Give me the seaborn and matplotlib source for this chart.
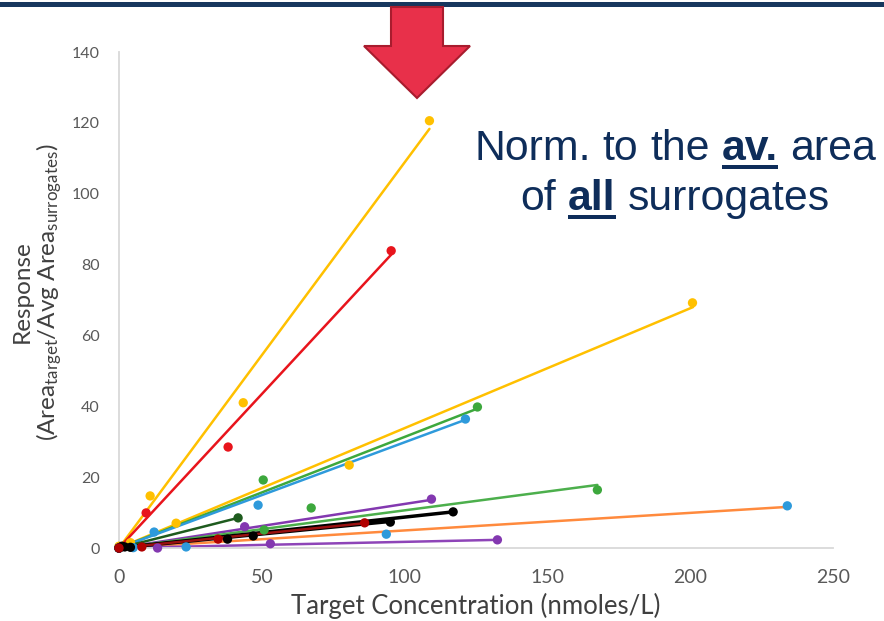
import pandas as pd
import seaborn as sns
import matplotlib.pyplot as plt
from matplotlib.patches import Polygon, Rectangle

# Points (x = nmoles/L, y = response)
SERIES = ["yellow_a", "red", "yellow_b", "green_a", "blue_a", "purple_a",
          "green_b", "black_a", "dkgreen", "blue_b", "purple_b", "black_b", "darkred"]

yellow_a_x = [0, 10.9, 43.5, 108.7]
yellow_a_y = [0.5, 14.7, 41.0, 120.6]
red_x = [0, 9.5, 38.2, 95.3]
red_y = [0, 9.9, 28.5, 83.9]
yellow_b_x = [0, 4, 20, 80.6, 200.8]
yellow_b_y = [0, 1.5, 7.0, 23.4, 69.2]
green_a_x = [0, 50.5, 125.5]
green_a_y = [0, 19.2, 39.8]
blue_a_x = [0, 12.3, 48.7, 121.3]
blue_a_y = [0, 4.5, 12.1, 36.4]
purple_a_x = [0, 44, 109.4]
purple_a_y = [0, 6.0, 13.8]
green_b_x = [0, 50.8, 67.3, 167.5]
green_b_y = [0, 5.1, 11.3, 16.4]
black_a_x = [0, 2, 38, 47, 117]
black_a_y = [0, 0.3, 2.5, 3.4, 10.2]
dkgreen_x = [0, 41.7]
dkgreen_y = [0, 8.5]
blue_b_x = [0, 5, 23.5, 93.6, 234]
blue_b_y = [0, 0.1, 0.3, 3.9, 11.9]
purple_b_x = [0, 13.5, 53, 132.5]
purple_b_y = [0, 0, 1.2, 2.3]
black_b_x = [0, 1, 4, 95]
black_b_y = [0, 0.5, 0.2, 7.3]
darkred_x = [0, 8, 34.7, 86]
darkred_y = [0, 0.3, 2.5, 7.1]

# trendline end points (each trendline starts at the origin)
fit_end_x = [108.7, 95.3, 201, 124.4, 121.3, 109.4, 167.5, 117, 41.7, 234, 132.5, 95, 86]
fit_end_y = [118.3, 82.8, 68.0, 39.0, 36.2, 13.6, 17.8, 10.2, 8.5, 11.6, 2.3, 7.5, 7.0]

POINT_COLORS = ["#FFC000", "#E8141C", "#FFC000", "#3DA83D", "#2E9ADB", "#8338B0",
                "#3DA83D", "#000000", "#1E5B1E", "#2E9ADB", "#8338B0", "#000000", "#B00000"]
LINE_COLORS = ["#FFC000", "#E8141C", "#FFC000", "#3DA83D", "#2E9ADB", "#8338B0",
               "#4CAF4C", "#000000", "#1E5B1E", "#FF8A3D", "#8E44B8", "#000000", "#9A1010"]

xs = [yellow_a_x, red_x, yellow_b_x, green_a_x, blue_a_x, purple_a_x, green_b_x,
      black_a_x, dkgreen_x, blue_b_x, purple_b_x, black_b_x, darkred_x]
ys = [yellow_a_y, red_y, yellow_b_y, green_a_y, blue_a_y, purple_a_y, green_b_y,
      black_a_y, dkgreen_y, blue_b_y, purple_b_y, black_b_y, darkred_y]

pts = pd.concat([pd.DataFrame({"x": x, "y": y, "series": s}) for s, x, y in zip(SERIES, xs, ys)],
                ignore_index=True)
fits = pd.concat([pd.DataFrame({"x": [0, ex], "y": [0, ey], "series": s})
                  for s, ex, ey in zip(SERIES, fit_end_x, fit_end_y)], ignore_index=True)

W, H = 884, 621
sns.set_style("white")
plt.rcParams["font.family"] = ["Lato", "DejaVu Sans"]
plt.rcParams["mathtext.default"] = "regular"

fig = plt.figure(figsize=(W / 100, H / 100), dpi=100)
ax = fig.add_axes([119 / W, 1 - 548 / H, (833 - 119) / W, (548 - 52) / H])

for s, lc in zip(SERIES, LINE_COLORS):
    lw = 2.5 if lc == "#000000" else 1.8
    sns.lineplot(data=fits[fits["series"] == s], x="x", y="y", color=lc, lw=lw,
                 estimator=None, sort=False, ax=ax, zorder=2)
sns.scatterplot(data=pts, x="x", y="y", hue="series", palette=dict(zip(SERIES, POINT_COLORS)),
                s=45, linewidth=0, legend=False, clip_on=False, zorder=3, ax=ax)

ax.set_xlim(0, 250)
ax.set_ylim(0, 140)
ax.set_xticks(range(0, 251, 50))
ax.set_yticks(range(0, 141, 20))
ax.tick_params(axis="x", length=0, pad=15, labelsize=14, labelcolor="#595959")
ax.tick_params(axis="y", length=0, pad=14, labelsize=11.5, labelcolor="#595959")
for side in ["top", "right"]:
    ax.spines[side].set_visible(False)
for side in ["left", "bottom"]:
    ax.spines[side].set_color("#D9D9D9")
    ax.spines[side].set_linewidth(1.3)
ax.set_xlabel("Target Concentration (nmoles/L)", fontsize=18.5, color="#404040", labelpad=5)
ax.set_ylabel("")
fig.text(38 / W, 1 - 292 / H,
         "Response\n(Area$_{target}$/Avg Area$_{surrogates}$)",
         rotation=90, ha="center", va="center", multialignment="center",
         fontsize=17.5, color="#404040", linespacing=1.1)

# slide decorations: top rule and red arrow
fig.add_artist(Rectangle((0, 1 - 6.5 / H), 1, 4 / H, transform=fig.transFigure,
                         facecolor="#17375E", edgecolor="none"))
arrow_px = [(391, 7), (443, 7), (443, 46), (470, 46), (417, 98), (364, 46), (391, 46)]
fig.add_artist(Polygon([(x / W, 1 - y / H) for x, y in arrow_px], closed=True,
                       transform=fig.transFigure, facecolor="#E8304A",
                       edgecolor="#A81C2E", linewidth=1.5))

# callout text with bold + underlined words
NAVY = "#0E2D5A"
renderer = fig.canvas.get_renderer()


def rich_line(parts, cx, base_y, size=30.8):
    probe = fig.text(0, 0, "a a", fontsize=size, family="Liberation Sans")
    probe2 = fig.text(0, 0, "aa", fontsize=size, family="Liberation Sans")
    space = probe.get_window_extent(renderer).width - probe2.get_window_extent(renderer).width
    probe.remove()
    probe2.remove()
    items = []
    for word, bold, under in parts:
        t = fig.text(0, 1 - base_y / H, word, fontsize=size, family="Liberation Sans",
                     weight="bold" if bold else "normal", color=NAVY, va="baseline")
        items.append((t, t.get_window_extent(renderer).width, under))
    total = sum(w for _, w, _ in items) + space * (len(items) - 1)
    x = cx - total / 2
    for t, w, under in items:
        t.set_x(x / W)
        if under:
            fig.add_artist(Rectangle((x / W, 1 - (base_y + 9) / H), w / W, 4 / H,
                                     transform=fig.transFigure, facecolor=NAVY,
                                     edgecolor="none"))
        x += w + space


rich_line([("Norm.", False, False), ("to", False, False), ("the", False, False),
           ("av.", True, True), ("area", False, False)], 675, 160)
rich_line([("of", False, False), ("all", True, True), ("surrogates", False, False)], 675, 210)

plt.savefig("out.png", dpi=100)
